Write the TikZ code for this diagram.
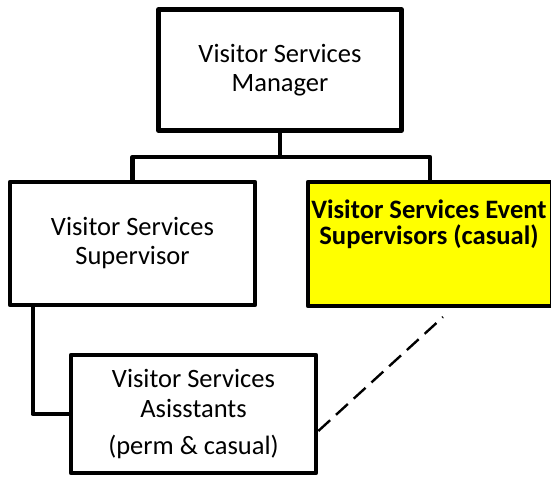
\documentclass[tikz,border=0pt]{standalone}
\usepackage{fontspec}
\setmainfont{Carlito}
\definecolor{evtyellow}{RGB}{255,255,0}
\begin{document}
\begin{tikzpicture}[x=1pt,y=-1pt,
  box/.style={draw=black, line width=4.6pt, line join=round, rectangle, inner sep=0pt, align=center,
    font=\fontsize{26.5}{29}\selectfont},
  conn/.style={draw=black, line width=4.4pt, line join=round},
  dashconn/.style={draw=black, line width=2.4pt, dash pattern=on 16pt off 8pt}]
\useasboundingbox (0,0) rectangle (551,477);
\fill[white] (0,0) rectangle (551,477);
\node[box, minimum width=243pt, minimum height=121pt] (mgr) at (280,70) {Visitor Services\\Manager};
\node[box, minimum width=245pt, minimum height=123pt] (sup) at (132.5,243.5) {Visitor Services\\Supervisor};
\node[box, fill=evtyellow, minimum width=244pt, minimum height=124pt] (evt) at (430,244) {};
\node[anchor=north, inner sep=0pt, align=center, font=\fontsize{26.6}{26}\selectfont\bfseries] (evttext) at (429,200)
  {Visitor Services Event\\Supervisors (casual)};
\node[box, minimum width=245pt, minimum height=118pt, font=\fontsize{26.5}{30}\selectfont] (ass) at (193.5,414)
  {Visitor Services\\Asisstants\\[7pt](perm \& casual)};
\coordinate (j) at (280,157);
\coordinate (dend) at (443,317);
\draw[conn] (mgr.south) -- (j);
\draw[conn] (sup.north) |- (j) -| (evt.north);
\draw[conn] ([xshift=25pt]sup.south west) |- (ass.west);
\draw[dashconn] ([yshift=-17pt]ass.east) -- (dend);
\end{tikzpicture}
\end{document}
